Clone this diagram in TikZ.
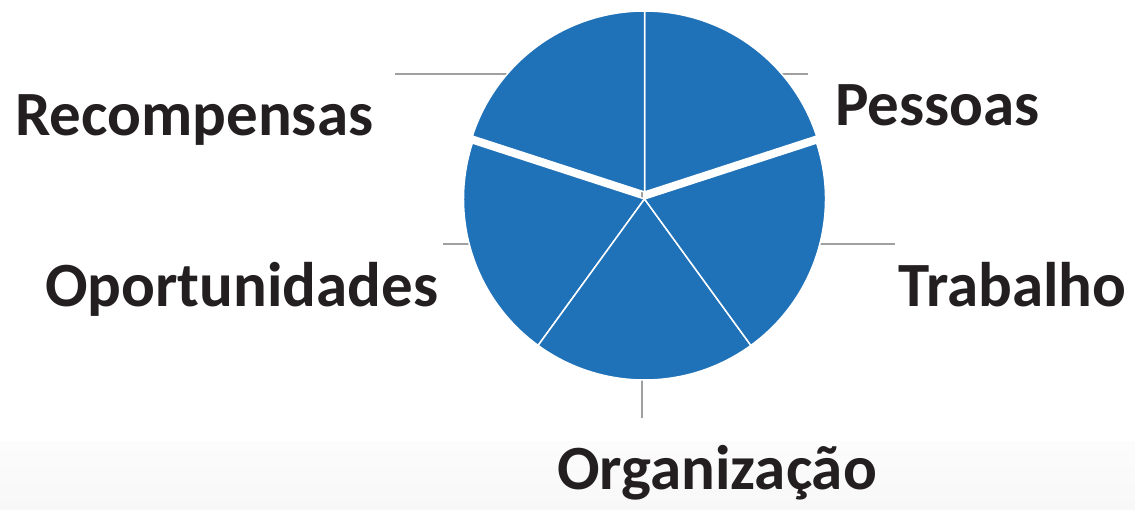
\documentclass[tikz,border=0pt]{standalone}
\usepackage{fontspec}
\setmainfont{Carlito}
\definecolor{pieblue}{HTML}{1F71B8}
\definecolor{leadgray}{HTML}{A0A0A0}
\definecolor{txt}{HTML}{231F20}
\definecolor{bgtop}{HTML}{FCFCFC}
\definecolor{bgbot}{HTML}{F8F8F8}
\tikzset{
  slice/.style={fill=pieblue, draw=white, line width=1.5pt, line join=round},
  leader/.style={draw=leadgray, line width=2.6pt},
  lbl/.style={anchor=base west, inner sep=0pt, text=txt, font=\fontsize{63}{72}\selectfont\bfseries}
}
\begin{document}
\begin{tikzpicture}[x=1pt,y=1pt]
\useasboundingbox (0,0) rectangle (1135,509);
\fill[white] (0,0) rectangle (1135,509);
\shade[top color=bgtop, bottom color=bgbot] (0,0) rectangle (1135,68);
% centres of the pie
\coordinate (ct) at (644.5,317);
\coordinate (cb) at (644.5,310);
% leader line ends
\coordinate (lr1) at (395,435);  \coordinate (lr2) at (520,435);
\coordinate (lp1) at (770,435);  \coordinate (lp2) at (808,435);
\coordinate (lt1) at (810,265);  \coordinate (lt2) at (895,265);
\coordinate (lo1) at (443,265);  \coordinate (lo2) at (480,265);
\coordinate (lg1) at (642,140);  \coordinate (lg2) at (642,91);
\coordinate (lc1) at (642,317);  \coordinate (lc2) at (642,310);
\draw[leader] (lr1) -- (lr2);
\draw[leader] (lp1) -- (lp2);
\draw[leader] (lt1) -- (lt2);
\draw[leader] (lo1) -- (lo2);
\draw[leader] (lg1) -- (lg2);
\draw[leader] (lc1) -- (lc2);
% slices
\draw[slice] (cb) -- ++(162:181) arc[start angle=162, end angle=234, radius=181] -- cycle;
\draw[slice] (cb) -- ++(234:181) arc[start angle=234, end angle=306, radius=181] -- cycle;
\draw[slice] (cb) -- ++(306:181) arc[start angle=306, end angle=378, radius=181] -- cycle;
\draw[slice] (ct) -- ++(18:181) arc[start angle=18, end angle=90, radius=181] -- cycle;
\draw[slice] (ct) -- ++(90:181) arc[start angle=90, end angle=162, radius=181] -- cycle;
% labels
\node[lbl] (rec) at (15,373) {Recompensas};
\node[lbl] (pes) at (835,383) {Pessoas};
\node[lbl] (tra) at (898,202) {Trabalho};
\node[lbl] (opo) at (45,202) {Oportunidades};
\node[lbl] (org) at (557,20) {Organização};
\end{tikzpicture}
\end{document}
